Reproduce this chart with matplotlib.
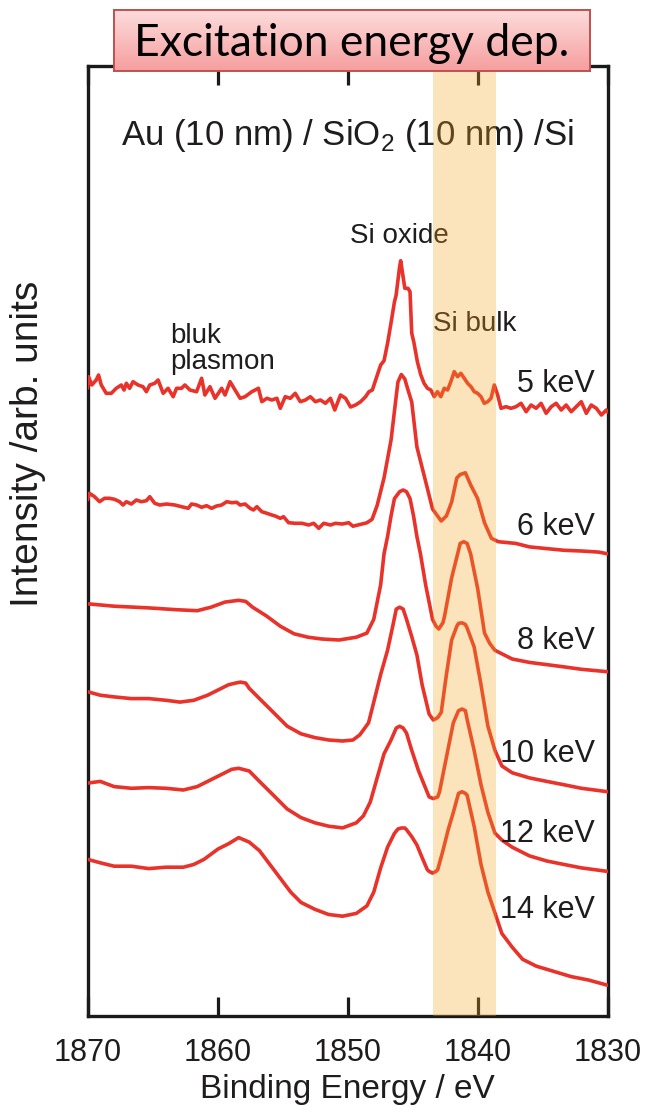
import numpy as np
import matplotlib
matplotlib.use("Agg")
import matplotlib.pyplot as plt

# ---- spectra: binding energy (eV) and stacked intensity (arb. units) ----
e5 = [1870.0, 1869.92, 1869.67, 1869.33, 1869.15, 1868.94, 1868.56, 1868.17, 1867.79, 1867.40,
      1867.19, 1867.01, 1866.76, 1866.50, 1866.11, 1865.73, 1865.47, 1865.21, 1864.83, 1864.57,
      1864.18, 1863.80, 1863.41, 1863.15, 1862.77, 1862.51, 1862.12, 1861.61, 1861.22, 1860.97,
      1860.58, 1860.19, 1859.68, 1859.42, 1859.03, 1858.65, 1858.26, 1857.88, 1857.36, 1857.10,
      1856.85, 1856.59, 1856.20, 1855.82, 1855.43, 1855.17, 1854.79, 1854.40, 1854.02, 1853.63,
      1853.24, 1852.86, 1852.47, 1852.08, 1851.70, 1851.31, 1850.98, 1850.54, 1850.15, 1849.77,
      1849.38, 1848.99, 1848.61, 1848.35, 1848.09, 1847.71, 1847.58, 1847.45, 1847.19, 1846.92,
      1846.65, 1846.39, 1846.26, 1846.00, 1845.91, 1845.75, 1845.59, 1845.35, 1845.19, 1845.06,
      1844.90, 1844.62, 1844.36, 1844.11, 1843.85, 1843.59, 1843.33, 1843.08, 1842.82, 1842.56,
      1842.30, 1842.05, 1841.79, 1841.53, 1841.28, 1841.02, 1840.76, 1840.50, 1840.25, 1839.99,
      1839.73, 1839.48, 1839.22, 1838.96, 1838.71, 1838.45, 1838.19, 1837.81, 1837.42, 1837.04,
      1836.65, 1836.26, 1835.88, 1835.49, 1835.11, 1834.72, 1834.33, 1833.95, 1833.56, 1833.18,
      1832.79, 1832.40, 1832.02, 1831.63, 1831.25, 1830.86, 1830.47, 1830.09, 1830.0]
i5 = [623.7, 635.3, 627, 632, 637, 627, 618.7, 618.7, 623.7, 627,
      622, 628.7, 623.7, 630.3, 627, 625.3, 620.3, 627, 628.7, 632,
      618.7, 623.7, 615.3, 623.7, 623.7, 627, 622, 620.3, 633.7, 617,
      625.3, 613.7, 623.7, 617, 630.3, 622, 613.7, 615.3, 620.3, 622,
      623.7, 610.3, 613.7, 612, 613.7, 603.7, 615.3, 613.7, 618.7, 610.3,
      612, 615.3, 610.3, 612, 608.7, 613.7, 602, 617, 613.7, 605,
      607, 610.3, 615.3, 620.3, 622, 637, 642, 647, 651.3, 668.6,
      689.2, 710, 716.8, 744.4, 751.3, 737.5, 723.7, 723.7, 720.3, 678.9,
      670, 650, 637, 628.7, 623.7, 622, 615.3, 620.3, 615.3, 623.7,
      622, 630.3, 640.3, 635.3, 638.7, 633.7, 628.7, 625.3, 620.3, 618.7,
      615.3, 608.7, 610.3, 613.7, 627, 617, 603.7, 605.3, 603.7, 605.3,
      608.7, 600.3, 607, 603.7, 608.7, 598.7, 605.3, 608.7, 602, 607,
      600.3, 605.3, 610.3, 598.7, 607, 603.7, 597, 602, 600]

e6 = [1870.0, 1869.85, 1869.46, 1869.07, 1868.69, 1868.30, 1867.92, 1867.53, 1867.27, 1867.01,
      1866.63, 1866.24, 1865.86, 1865.47, 1865.21, 1864.83, 1864.44, 1863.93, 1863.28, 1862.77,
      1862.25, 1862.00, 1861.61, 1861.22, 1860.84, 1860.45, 1860.07, 1859.68, 1859.29, 1858.90,
      1858.52, 1858.26, 1857.88, 1857.49, 1857.23, 1856.97, 1856.59, 1856.20, 1855.82, 1855.56,
      1855.17, 1854.92, 1854.53, 1854.02, 1853.50, 1852.99, 1852.60, 1852.21, 1851.83, 1851.31,
      1850.93, 1850.41, 1849.90, 1849.58, 1848.51, 1848.11, 1847.72, 1847.19, 1846.65, 1846.26,
      1846.12, 1845.86, 1845.59, 1845.46, 1845.06, 1844.66, 1844.26, 1843.99, 1843.46, 1842.79,
      1842.39, 1841.99, 1841.59, 1841.33, 1840.93, 1840.53, 1839.99, 1839.46, 1838.93, 1838.40,
      1837.06, 1836.00, 1834.67, 1833.33, 1832.00, 1830.67, 1830.0]
i6 = [512, 518.7, 515.3, 510.3, 513.7, 513.7, 512.7, 510.3, 507, 510.3,
      508, 512, 510.3, 511.3, 515.3, 508.7, 507, 508, 507, 505.3,
      503.7, 508, 507, 504.7, 506.3, 503.7, 506, 507, 510.3, 509.3,
      509.7, 507, 508, 503.7, 502, 505.3, 500.3, 498.7, 497, 496,
      493.7, 495.3, 489.3, 488.7, 488.7, 487, 488.7, 483.7, 488.7, 487,
      488.7, 488, 489.3, 485.8, 489.2, 492.7, 506.5, 534.1, 572, 615,
      630, 637.5, 633, 627, 610, 565, 544.4, 530.6, 503, 491,
      496.1, 509.9, 534.1, 537.5, 539.2, 527.2, 513.4, 489.2, 473.7, 470.3,
      468.6, 465.1, 463.4, 461.7, 461, 459.9, 458.2]

e8 = [1870.0, 1867.95, 1865.29, 1863.16, 1861.56, 1860.50, 1859.43, 1858.37, 1857.83, 1857.30,
      1856.24, 1855.17, 1854.11, 1853.04, 1851.98, 1850.65, 1849.32, 1848.51, 1847.98, 1847.45,
      1847.19, 1846.92, 1846.65, 1846.39, 1845.99, 1845.72, 1845.46, 1845.19, 1844.92, 1844.66,
      1844.39, 1843.99, 1843.46, 1843.19, 1842.98, 1842.66, 1842.53, 1841.99, 1841.46, 1841.33,
      1841.06, 1840.80, 1840.53, 1839.99, 1839.46, 1839.06, 1838.66, 1837.33, 1836.00, 1833.33,
      1832.00, 1830.0]
i8 = [408.2, 405.8, 404.1, 402.3, 401.3, 404.8, 409.9, 411.7, 410.6, 404.8,
      396.1, 385.8, 378.2, 374.8, 373, 372, 374.8, 378.9, 392.7, 427.2,
      458.2, 475.4, 496.1, 513.4, 520.3, 522, 520.3, 513.4, 496.1, 475.4,
      458.2, 427.2, 392.7, 385.8, 383, 389.2, 396.1, 434.1, 461.7, 468.6,
      470.3, 468.6, 458.2, 423.7, 378.9, 368.6, 361.7, 353, 349.6, 345.1,
      342.7, 340.3]

e10 = [1870.0, 1869.02, 1867.95, 1866.62, 1865.29, 1863.96, 1862.89, 1861.83, 1860.76, 1859.96,
       1859.16, 1858.63, 1858.23, 1857.83, 1857.56, 1856.77, 1855.70, 1854.64, 1853.58, 1852.51,
       1851.45, 1850.38, 1849.58, 1849.05, 1848.38, 1847.98, 1847.45, 1846.92, 1846.52, 1846.25,
       1845.99, 1845.72, 1845.46, 1845.06, 1844.66, 1844.26, 1843.72, 1843.40, 1843.06, 1842.79,
       1842.39, 1841.99, 1841.59, 1841.46, 1841.19, 1840.93, 1840.80, 1840.26, 1839.73, 1839.20,
       1838.66, 1838.13, 1837.33, 1836.00, 1834.67, 1833.33, 1832.00, 1830.0]
i10 = [320.3, 316.8, 315.1, 313.4, 313.4, 311.7, 309.9, 311.7, 316.8, 322,
       327.2, 328.9, 329.9, 328.9, 323.7, 313.4, 299.6, 285.8, 278.2, 274.4,
       272, 271, 272, 277.2, 289.2, 309.9, 337.5, 361.7, 385.8, 402.9,
       404.8, 402.9, 392.7, 375.4, 357, 327.2, 297.9, 292, 294.4, 299.6,
       337.5, 372, 385.8, 388.6, 389.2, 387.5, 384, 365.1, 327.2, 285.8,
       261.7, 246.1, 239.2, 234.1, 230.6, 227.2, 223.7, 220.3]

e12 = [1870.0, 1869.02, 1867.95, 1866.62, 1865.29, 1863.96, 1862.63, 1861.56, 1860.50, 1859.70,
       1858.90, 1858.37, 1857.56, 1856.77, 1855.70, 1854.64, 1853.58, 1852.51, 1851.45, 1850.38,
       1849.32, 1848.78, 1848.25, 1847.72, 1847.19, 1846.65, 1846.25, 1845.99, 1845.72, 1845.46,
       1845.06, 1844.53, 1843.99, 1843.72, 1843.40, 1843.06, 1842.92, 1842.39, 1841.86, 1841.46,
       1841.19, 1840.93, 1840.80, 1840.26, 1839.73, 1839.20, 1838.66, 1838.13, 1837.33, 1836.00,
       1834.67, 1833.33, 1832.00, 1830.0]
i12 = [228.9, 230.6, 225.4, 223.7, 224.4, 223.7, 222, 225.4, 232.3, 237.5,
       242.7, 243.7, 241, 230.6, 216.8, 203, 194.4, 189.2, 185.8, 184.1,
       189.2, 196.1, 209.9, 234.1, 258.2, 272, 284, 285.8, 284, 278.9,
       261.7, 241, 223.7, 215.1, 213.4, 215.1, 220.3, 254.8, 289.2, 301.3,
       303, 301.3, 292.7, 261.7, 227.2, 199.6, 178.9, 172, 164.8, 156.1,
       151, 147.5, 144.1, 140.6]

e14 = [1870.0, 1869.02, 1867.95, 1866.62, 1865.29, 1863.96, 1862.63, 1861.83, 1861.03, 1859.96,
       1859.16, 1858.37, 1857.56, 1856.77, 1855.97, 1855.17, 1854.37, 1853.58, 1852.51, 1851.45,
       1850.38, 1849.32, 1848.51, 1847.98, 1847.45, 1846.92, 1846.39, 1846.12, 1845.86, 1845.59,
       1845.46, 1845.06, 1844.66, 1844.26, 1843.86, 1843.72, 1843.46, 1843.19, 1843.06, 1842.66,
       1842.26, 1841.86, 1841.46, 1841.19, 1840.93, 1840.80, 1840.26, 1839.73, 1839.20, 1838.66,
       1838.13, 1837.33, 1836.53, 1835.47, 1834.13, 1832.80, 1831.47, 1830.0]
i14 = [152.7, 149.2, 145.8, 145.8, 143.4, 144.8, 144.8, 147.5, 152.7, 163,
       168.2, 174.4, 169.9, 161.3, 147.5, 133.7, 119.9, 109.6, 102.7, 97.5,
       95.8, 98.6, 106.1, 119.9, 144.1, 164.8, 178.6, 183, 184, 184,
       182.3, 175.4, 167, 154.4, 142.3, 140.6, 138.9, 140.6, 142.3, 161.3,
       182, 199.6, 218.6, 220.3, 218.6, 216.8, 185.8, 147.5, 119.9, 99.2,
       78.6, 64.8, 52.7, 45.8, 40.6, 35.4, 32, 26.8]

energies = [e5, e6, e8, e10, e12, e14]
intensities = [i5, i6, i8, i10, i12, i14]
series_labels = ["5 keV", "6 keV", "8 keV", "10 keV", "12 keV", "14 keV"]
label_levels = [620, 477, 363, 250, 170, 94]   # baseline of each series label

x_ticks = [1870, 1860, 1850, 1840, 1830]
si_bulk_band = (1843.45, 1838.55)

title_text = "Excitation energy dep."
sample_text = "Au (10 nm) / SiO$_2$ (10 nm) /Si"
x_label = "Binding Energy / eV"
y_label = "Intensity /arb. units"

# ---- figure ----
W, H = 646, 1116
fig = plt.figure(figsize=(W / 100, H / 100), dpi=100)
plt.rcParams["font.family"] = ["Liberation Sans", "DejaVu Sans"]
plt.rcParams["mathtext.fontset"] = "custom"
plt.rcParams["mathtext.rm"] = "Liberation Sans"

txt = "#1f1c1d"
red = "#e8322a"

left, right, top, bottom = 87.5, 607.5, 66, 1016
ax = fig.add_axes([left / W, 1 - bottom / H, (right - left) / W, (bottom - top) / H])
ax.set_xlim(1870, 1830)
ax.set_ylim(-4, 946)

for e, inten in zip(energies, intensities):
    ax.plot(e, inten, color=red, lw=2.6, solid_joinstyle="round",
            solid_capstyle="round", zorder=3)

for lab, lev in zip(series_labels, label_levels):
    ax.text(1830.95, lev, lab, ha="right", va="baseline", fontsize=22, color=txt, zorder=4)

ax.text(1846.0, 769, "Si oxide", ha="center", va="baseline", fontsize=20, color=txt, zorder=4)
ax.text(1843.45, 681, "Si bulk", ha="left", va="baseline", fontsize=20, color=txt, zorder=4)
ax.text(1863.6, 669, "bluk", ha="left", va="baseline", fontsize=20, color=txt, zorder=4)
ax.text(1863.6, 643, "plasmon", ha="left", va="baseline", fontsize=20, color=txt, zorder=4)
ax.text(0.5, 867, sample_text, transform=ax.get_yaxis_transform(), ha="center",
        va="baseline", fontsize=25, color=txt, zorder=4)

# Si bulk region
ax.axvspan(*si_bulk_band, color="#f5a623", alpha=0.30, lw=0, zorder=6)

ax.set_xticks(x_ticks)
ax.set_xticklabels([str(t) for t in x_ticks])
ax.set_yticks([])
ax.tick_params(axis="x", direction="in", length=14, width=2.3, top=True,
               labelsize=22, pad=16, colors="#1a1a1a", labelcolor=txt)
for s in ax.spines.values():
    s.set_linewidth(2.4)
    s.set_color("#1a1a1a")
ax.set_xlabel(x_label, fontsize=24, color=txt, labelpad=4)
fig.text(28 / W, 1 - 444 / H, y_label, rotation=90, ha="center", va="center",
         fontsize=28, color=txt)

# ---- title box with vertical pink gradient ----
bx0, bx1, by0, by1 = 114, 590, 10, 71
tax = fig.add_axes([bx0 / W, 1 - by1 / H, (bx1 - bx0) / W, (by1 - by0) / H], zorder=10)
top_c = np.array([253, 220, 220]) / 255
bot_c = np.array([246, 158, 158]) / 255
tt = np.linspace(0, 1, 64)[:, None, None]
grad = top_c * (1 - tt) + bot_c * tt
tax.imshow(np.repeat(grad, 2, axis=1), aspect="auto", extent=[0, 1, 0, 1], origin="upper")
tax.set_xlim(0, 1)
tax.set_ylim(0, 1)
tax.set_xticks([])
tax.set_yticks([])
for s in tax.spines.values():
    s.set_color("#c0504d")
    s.set_linewidth(1.4)
tax.text(0.5, 0.45, title_text, ha="center", va="center", fontsize=32,
         family=["Lato", "DejaVu Sans"], color="black")

fig.savefig("out.png", dpi=100)
